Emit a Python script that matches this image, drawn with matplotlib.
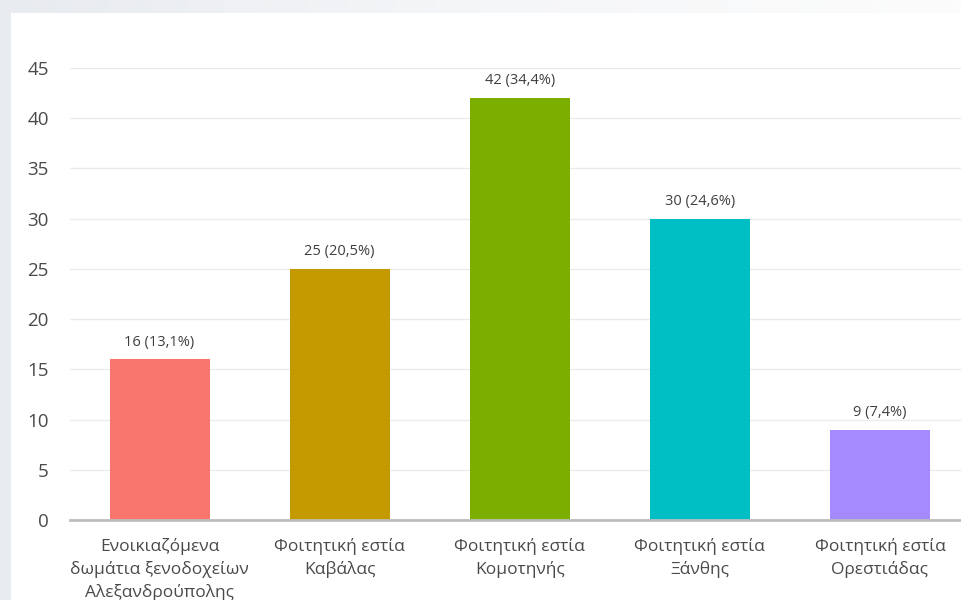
import numpy as np
import matplotlib
matplotlib.use("Agg")
import matplotlib.pyplot as plt
from matplotlib.patches import Rectangle

plt.rcParams['font.family'] = ['Open Sans', 'DejaVu Sans']

# δεδομένα
categories = [
    "Ενοικιαζόμενα\nδωμάτια ξενοδοχείων\nΑλεξανδρούπολης",
    "Φοιτητική εστία\nΚαβάλας",
    "Φοιτητική εστία\nΚομοτηνής",
    "Φοιτητική εστία\nΞάνθης",
    "Φοιτητική εστία\nΟρεστιάδας",
]
counts = [16, 25, 42, 30, 9]
percents = ["13,1%", "20,5%", "34,4%", "24,6%", "7,4%"]
colors = ["#F8766D", "#C49A00", "#7CAE00", "#00BFC4", "#A58AFF"]
yticks = [0, 5, 10, 15, 20, 25, 30, 35, 40, 45]

fig = plt.figure(figsize=(9.62, 6.0), dpi=100)

# φόντο με απαλή διαβάθμιση και λευκό πλαίσιο
bg = fig.add_axes([0, 0, 1, 1], zorder=-10)
grad = np.linspace(0, 1, 256).reshape(1, -1)
bg.imshow(grad, aspect='auto', extent=[0, 1, 0, 1],
          cmap=matplotlib.colors.LinearSegmentedColormap.from_list(
              'bgc', ['#e8ebef', '#f5f6f8', '#fcfcfc']))
bg.add_patch(Rectangle((11 / 962, 0), 1, 1 - 13 / 600, color='white', lw=0))
bg.set_xlim(0, 1)
bg.set_ylim(0, 1)
bg.axis('off')

ax = fig.add_axes([69.5 / 962, 80 / 600, 900.5 / 962, 452 / 600])
ax.set_facecolor('none')
x = np.arange(len(categories))
bars = ax.bar(x, counts, width=100 / 180, color=colors, zorder=3)

for xi, c, p in zip(x, counts, percents):
    ax.annotate(f"{c} ({p})", (xi, c), xytext=(0, 7), textcoords='offset points',
                ha='center', va='bottom', fontsize=10.5, color='#3f3f3f', zorder=4)

ax.set_xlim(-0.5, 4.5)
ax.set_ylim(0, 45)
ax.set_yticks(yticks)
ax.set_xticks(x)
ax.set_xticklabels(categories, fontsize=12.5, color='#4a4a4a', linespacing=1.45)
ax.tick_params(axis='y', length=0, pad=15, labelsize=13.5, labelcolor='#4a4a4a')
ax.tick_params(axis='x', length=0, pad=13)
ax.yaxis.grid(True, color='#ebebeb', lw=1.0, zorder=0)
ax.set_axisbelow(True)
for s in ['top', 'right', 'left']:
    ax.spines[s].set_visible(False)
ax.spines['bottom'].set_color('#bdbdbd')
ax.spines['bottom'].set_linewidth(2.0)
ax.spines['bottom'].set_zorder(5)

fig.savefig("out.png", dpi=100)
